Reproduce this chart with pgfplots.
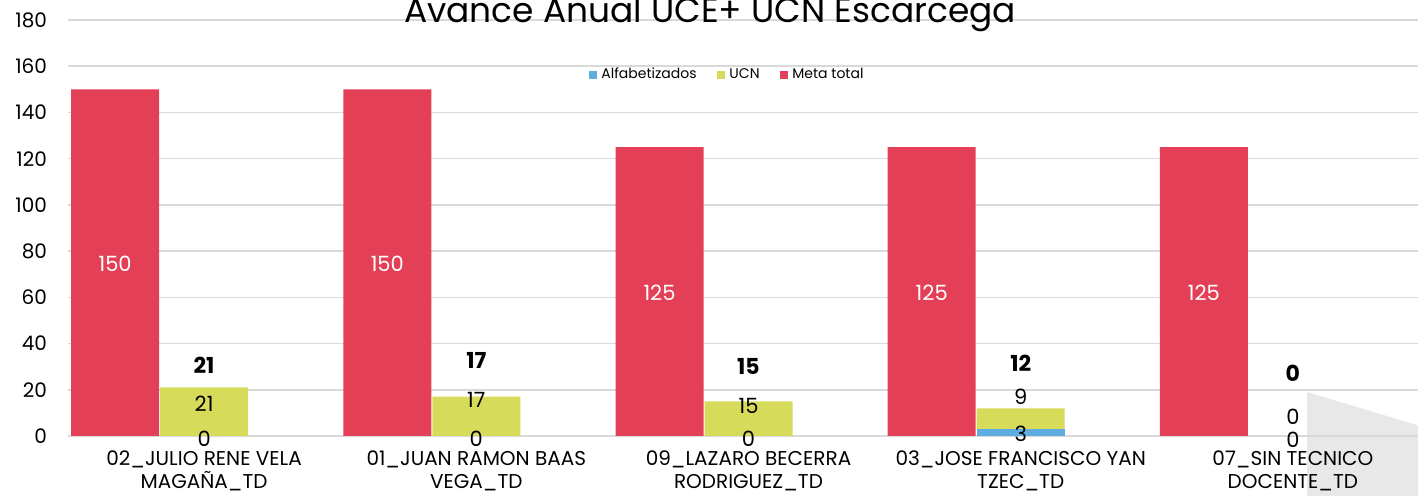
\documentclass[border=0pt]{standalone}
\usepackage{pgfplots}
\pgfplotsset{compat=1.18}
\usepackage{fontspec}
\setmainfont{Poppins}
\definecolor{metared}{RGB}{227,64,87}
\definecolor{ucnyel}{RGB}{214,220,90}
\definecolor{alfblue}{RGB}{95,173,224}
\definecolor{gridgray}{RGB}{217,217,217}
\pgfplotsset{
  base/.style={
    at={(34pt,30pt)}, anchor=south west,
    scale only axis, width=680.5pt, height=208pt,
    xmin=-0.5, xmax=4.5, ymin=0, ymax=180,
    axis line style={draw=none}, major tick length=0pt,
  }
}
\begin{document}
\begin{tikzpicture}
\fill[gray!18] (653.5pt,52pt) -- (720pt,32pt) -- (720pt,-5pt) -- (653.5pt,-5pt) -- cycle;
% axis A: grid, ticks, stacked bars
\begin{axis}[base,
  ybar stacked, bar width=44pt,
  ymajorgrids, grid style={gridgray, line width=0.8pt},
  ytick={0,20,...,180},
  /pgf/number format/assume math mode=true,
  yticklabel style={font=\fontsize{10}{12}\selectfont, xshift=-7pt},
  xtick={0,1,2,3,4},
  xticklabels={{02\_JULIO RENE VELA\\MAGAÑA\_TD},{01\_JUAN RAMON BAAS\\VEGA\_TD},{09\_LAZARO BECERRA\\RODRIGUEZ\_TD},{03\_JOSE FRANCISCO YAN\\TZEC\_TD},{07\_SIN TECNICO\\DOCENTE\_TD}},
  xticklabel style={font=\fontsize{10}{11.5}\selectfont, align=center, yshift=-4pt},
]
\addplot[fill=alfblue, draw=none] coordinates {(0,0) (1,0) (2,0) (3,3) (4,0)};
\addplot[fill=ucnyel, draw=none] coordinates {(0,21) (1,17) (2,15) (3,9) (4,0)};
\end{axis}
% axis B: meta bars, labels, legend
\begin{axis}[base, clip=false,
  xtick=\empty, ytick=\empty,
  legend style={at={(0.485,0.868)}, anchor=center, draw=none, fill=none,
    font=\fontsize{7}{8}\selectfont, legend columns=3,
    /tikz/every even column/.append style={column sep=8pt},
    inner sep=0pt},
  legend image code/.code={\fill[#1] (0pt,-2.2pt) rectangle (4.4pt,2.2pt);},
]
\addlegendimage{fill=alfblue, draw=none}
\addlegendentry{Alfabetizados}
\addlegendimage{fill=ucnyel, draw=none}
\addlegendentry{UCN}
\addplot[ybar, bar width=44pt, bar shift=-44.5pt, fill=metared, draw=none] coordinates {(0,150) (1,150) (2,125) (3,125) (4,125)};
\addlegendentry{Meta total}
% Meta labels
\addplot[draw=none, forget plot, nodes near coords, point meta=explicit symbolic,
  every node near coord/.append style={anchor=center, xshift=-44.5pt, text=white, font=\fontsize{10.5}{12}\selectfont}]
  coordinates {(0,74.4) [150] (1,74.4) [150] (2,61.8) [125] (3,61.8) [125] (4,61.8) [125]};
% UCN labels
\addplot[draw=none, forget plot, nodes near coords, point meta=explicit symbolic,
  every node near coord/.append style={anchor=center, text=black, font=\fontsize{10.5}{12}\selectfont}]
  coordinates {(0,14.1) [21] (1,15.6) [17] (2,13) [15] (3,17.1) [9] (4,8.4) [0]};
% Alfabetizados labels
\addplot[draw=none, forget plot, nodes near coords, point meta=explicit symbolic,
  every node near coord/.append style={anchor=center, text=black, font=\fontsize{10.5}{12}\selectfont}]
  coordinates {(0,-1.1) [0] (1,-1.1) [0] (2,-1.1) [0] (3,0.9) [3] (4,-1.5) [0]};
% totals
\addplot[draw=none, forget plot, nodes near coords, point meta=explicit symbolic,
  every node near coord/.append style={anchor=center, text=black, font=\bfseries\fontsize{11}{12}\selectfont}]
  coordinates {(0,30.5) [21] (1,32.5) [17] (2,30.3) [15] (3,31.4) [12] (4,27) [0]};
\end{axis}
\node[anchor=base, font=\fontsize{17.2}{19}\selectfont] at (355pt,236.5pt) {Avance Anual UCE+ UCN Escarcega};
\pgfresetboundingbox
\useasboundingbox (0,0) rectangle (709pt,248pt);
\end{tikzpicture}
\end{document}
